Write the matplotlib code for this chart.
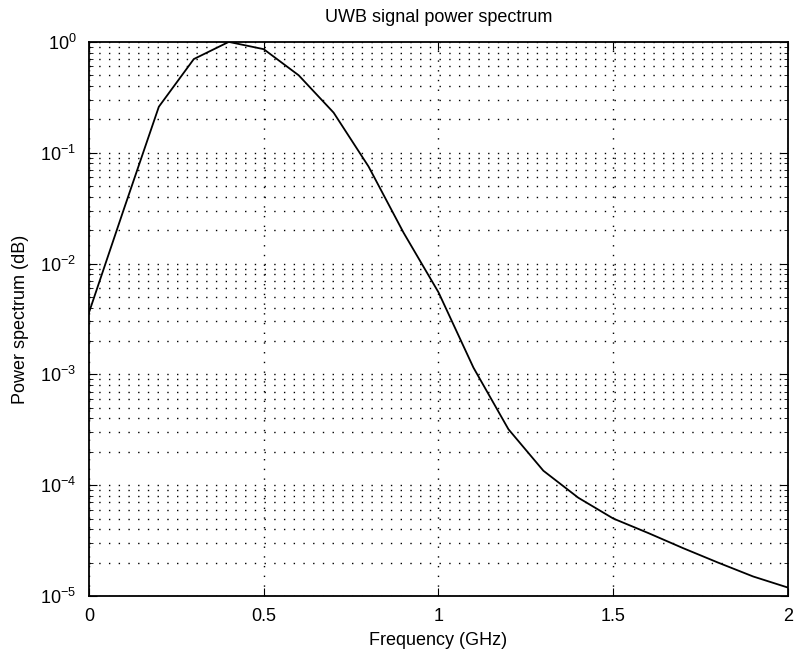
import numpy as np
import matplotlib.pyplot as plt
from matplotlib.ticker import LogLocator, NullFormatter

plt.rcParams['font.family'] = ['Liberation Sans', 'DejaVu Sans']
plt.rcParams['mathtext.fontset'] = 'custom'
plt.rcParams['mathtext.rm'] = 'Liberation Sans'
plt.rcParams['mathtext.it'] = 'Liberation Sans'

# frequency (GHz) and power spectrum
freq = [0.0, 0.1, 0.2, 0.3, 0.4, 0.5, 0.6, 0.7, 0.8, 0.9, 1.0,
        1.1, 1.2, 1.3, 1.4, 1.5, 1.6, 1.7, 1.8, 1.9, 2.0]
power = [3.6e-3, 3.1e-2, 0.26, 0.70, 1.0, 0.86, 0.50, 0.23, 0.075, 0.019, 5.5e-3,
         1.15e-3, 3.2e-4, 1.35e-4, 7.7e-5, 5.0e-5, 3.7e-5, 2.7e-5, 2.0e-5, 1.5e-5, 1.19e-5]

fig = plt.figure(figsize=(7.94, 6.6), dpi=100)
ax = fig.add_axes([0.112, 0.097, 0.8805, 0.8395])

ax.semilogy(freq, power, color='black', linewidth=1.3)

ax.set_xlim(0, 2)
ax.set_ylim(1e-5, 1)
ax.set_xticks([0, 0.5, 1, 1.5, 2])
ax.set_xticklabels(['0', '0.5', '1', '1.5', '2'])
ax.yaxis.set_major_locator(LogLocator(base=10, numticks=10))
ax.yaxis.set_minor_locator(LogLocator(base=10, subs=np.arange(2, 10), numticks=20))
ax.yaxis.set_minor_formatter(NullFormatter())

dots = (0, (1, 6))
ax.grid(True, which='major', linestyle=dots, color='black', linewidth=1.0)
ax.grid(True, which='minor', axis='y', linestyle=dots, color='black', linewidth=1.0)

ax.tick_params(which='both', direction='in', top=True, right=True, labelsize=13, pad=9)
ax.tick_params(which='major', length=6)
ax.tick_params(which='minor', length=3)
for s in ax.spines.values():
    s.set_linewidth(1.3)

ax.set_title('UWB signal power spectrum', fontsize=13, pad=14)
ax.set_xlabel('Frequency (GHz)', fontsize=13, labelpad=5)
ax.set_ylabel('Power spectrum (dB)', fontsize=13, labelpad=8)

fig.savefig('out.png', dpi=100)
